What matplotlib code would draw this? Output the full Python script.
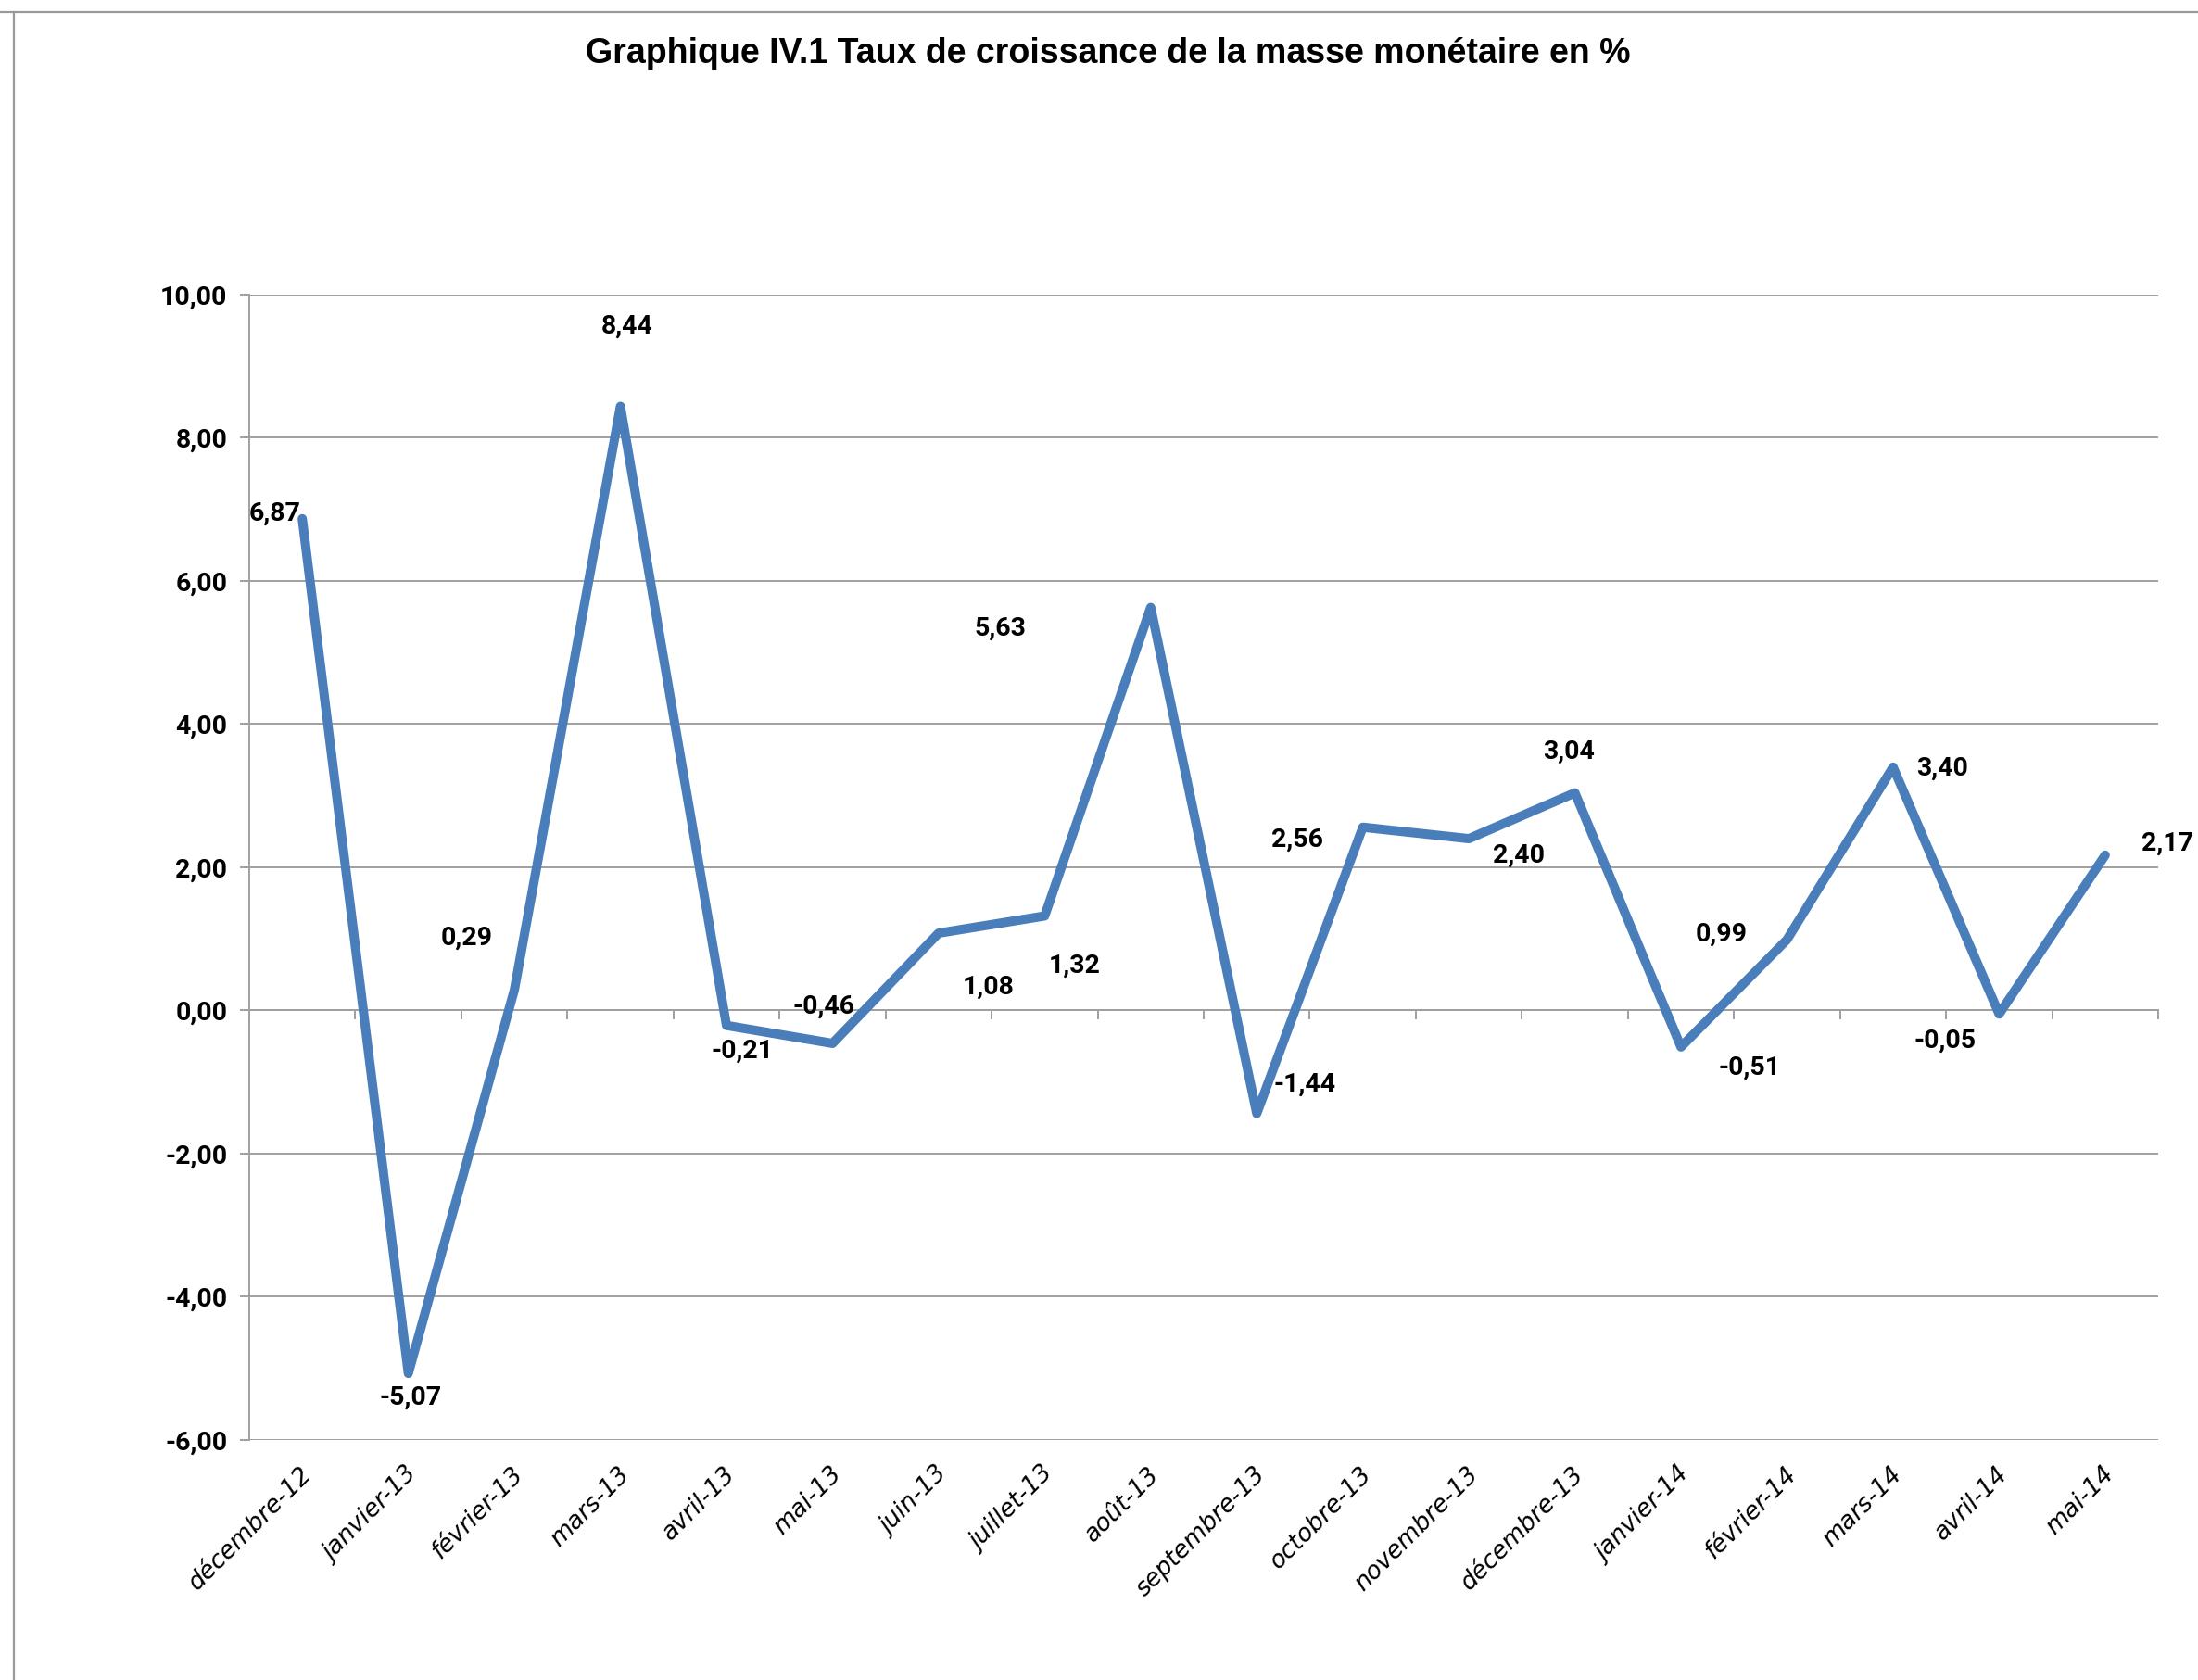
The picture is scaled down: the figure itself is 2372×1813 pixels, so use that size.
import numpy as np
import matplotlib
matplotlib.use("Agg")
import matplotlib.pyplot as plt
from matplotlib.lines import Line2D
from matplotlib.ticker import FuncFormatter, FixedLocator
from matplotlib.transforms import ScaledTranslation

# %% data
months = ["décembre-12", "janvier-13", "février-13", "mars-13", "avril-13",
          "mai-13", "juin-13", "juillet-13", "août-13", "septembre-13",
          "octobre-13", "novembre-13", "décembre-13", "janvier-14",
          "février-14", "mars-14", "avril-14", "mai-14"]
growth = [6.87, -5.07, 0.29, 8.44, -0.21, -0.46, 1.08, 1.32, 5.63, -1.44,
          2.56, 2.40, 3.04, -0.51, 0.99, 3.40, -0.05, 2.17]
yticks = [-6, -4, -2, 0, 2, 4, 6, 8, 10]

# where each value label sits relative to its point (points)
label_offsets = [(-21, 4), (2, -19), (-37, 40), (5, 62), (12, -20), (-7, 29),
                 (39, -42), (23, -39), (-117, -16), (37, 23), (-51, -10),
                 (39, -13), (-5, 32), (53, -16), (-51, 4), (38, -1),
                 (-42, -21), (48, 9)]

blue = "#4A7EBB"
grey = "#A0A0A0"
num_font = "Roboto"


def fr(v, pos=None):
    return f"{v:.2f}".replace(".", ",")


fig = plt.figure(figsize=(23.72, 18.13), dpi=100)
ax = fig.add_axes([0.1134, 0.1429, 0.8685, 0.6817])

x = np.arange(len(months))
ax.plot(x, growth, color=blue, lw=7.2, solid_capstyle="round",
        solid_joinstyle="round", zorder=3)

for xi, v, (dx, dy) in zip(x, growth, label_offsets):
    ax.annotate(fr(v), (xi, v), xytext=(dx, dy), textcoords="offset points",
                ha="center", va="center", fontsize=20.5, fontweight="bold",
                family=num_font, zorder=4)

ax.set_xlim(-0.5, len(months) - 0.5)
ax.set_ylim(-6, 10)
ax.set_yticks(yticks)
ax.yaxis.set_major_formatter(FuncFormatter(fr))
ax.grid(axis="y", color=grey, lw=1.4)
ax.set_axisbelow(True)
for s in ["top", "right", "bottom"]:
    ax.spines[s].set_visible(False)
ax.spines["left"].set_color(grey)
ax.spines["left"].set_linewidth(1.4)
ax.tick_params(axis="y", length=7, width=1.4, color=grey, pad=10)
for lab in ax.get_yticklabels():
    lab.set_fontsize(20.5)
    lab.set_fontweight("bold")
    lab.set_family(num_font)

ax.set_xticks(x)
ax.set_xticklabels(months, rotation=45, ha="right", va="center",
                   rotation_mode="anchor", fontsize=19, style="italic",
                   family="DejaVu Sans")
ax.tick_params(axis="x", length=0, pad=24)
shift = ScaledTranslation(6 / 100, 0, fig.dpi_scale_trans)
for lab in ax.get_xticklabels():
    lab.set_transform(lab.get_transform() + shift)

# horizontal axis line at zero with ticks between categories
zero_ax = ax.secondary_xaxis(6 / 16)
zero_ax.xaxis.set_major_locator(FixedLocator(np.arange(-0.5, len(months), 1)))
zero_ax.tick_params(axis="x", length=7, width=1.4, color=grey, direction="out",
                    labelbottom=False)
zero_ax.spines["bottom"].set_color(grey)
zero_ax.spines["bottom"].set_linewidth(1.4)

fig.text(0.504, 0.968, "Graphique IV.1 Taux de croissance de la masse monétaire en %",
         ha="center", va="center", fontsize=27, fontweight="bold",
         family="Liberation Sans")

# frame edges of the original chart box
fig.add_artist(Line2D([0, 1], [1 - 13 / 1813] * 2, color="#999999", lw=1.6,
                      transform=fig.transFigure))
fig.add_artist(Line2D([15 / 2372] * 2, [0, 1 - 13 / 1813], color="#999999",
                      lw=1.6, transform=fig.transFigure))

fig.savefig("out.png", dpi=100)
